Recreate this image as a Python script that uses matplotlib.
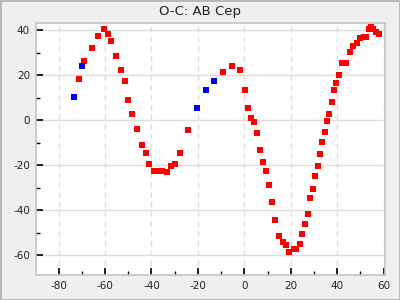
import matplotlib
matplotlib.use("Agg")
import matplotlib.pyplot as plt
from matplotlib.ticker import MultipleLocator

plt.rcParams["axes.unicode_minus"] = False

# red points (O-C values)
red_x = [-71.1, -69.0, -65.5, -62.9, -60.3, -58.6, -57.3, -55.2, -53.0, -51.3,
         -50.0, -48.3, -46.1, -44.0, -42.2, -40.9, -38.8, -37.1, -35.3, -33.2,
         -31.5, -29.7, -27.6, -24.1, -9.1, -5.2, -1.7, 0.4, 1.7, 3.0,
         4.3, 5.6, 6.9, 8.2, 9.5, 10.8, 12.1, 13.4, 15.1, 16.8,
         18.1, 19.4, 21.6, 22.4, 24.1, 25.0, 26.3, 27.6, 28.4, 29.7,
         30.6, 31.9, 32.8, 33.6, 34.9, 35.8, 36.6, 37.9, 38.8, 39.7,
         40.9, 42.2, 44.0, 45.7, 47.0, 48.7, 50.0, 51.7, 52.6, 53.9,
         54.7, 55.6, 56.9, 58.2]
red_y = [18.5, 26.5, 31.9, 37.2, 40.3, 38.1, 35.0, 28.3, 22.5, 17.6,
         8.8, 2.5, -4.1, -11.2, -14.8, -19.7, -22.8, -22.8, -22.8, -23.2,
         -20.6, -19.7, -14.4, -4.6, 21.6, 23.9, 22.1, 13.2, 5.2, 0.8,
         -1.0, -5.9, -13.3, -18.8, -22.8, -29.0, -36.6, -44.6, -51.7, -54.4,
         -55.7, -58.8, -57.5, -57.5, -55.2, -50.8, -46.4, -41.9, -34.8, -30.4,
         -25.0, -20.6, -15.2, -9.9, -5.5, -0.6, 2.5, 7.9, 13.2, 16.3,
         19.9, 25.6, 25.6, 30.1, 32.8, 34.1, 36.3, 36.8, 36.8, 40.3,
         41.2, 40.3, 39.0, 38.5]

# blue points
blue_x = [-73.3, -69.8, -20.3, -16.4, -12.9]
blue_y = [10.5, 23.9, 5.6, 13.2, 17.6]

title = "O-C: AB Cep"

fig = plt.figure(figsize=(4, 3), dpi=100)
fig.patch.set_facecolor("#efefef")
fig.patch.set_edgecolor("#b8b8b8")
fig.patch.set_linewidth(2)

ax = fig.add_axes([0.089, 0.083, 0.8735, 0.839])
ax.set_facecolor("white")

ax.plot(red_x, red_y, "s", color="#ff0000", ms=3.7, mew=0, zorder=3)
ax.plot(blue_x, blue_y, "s", color="#0000ff", ms=3.7, mew=0, zorder=3)

ax.set_xlim(-89.9, 60.6)
ax.set_ylim(-68.9, 43.0)

ax.xaxis.set_major_locator(MultipleLocator(20))
ax.xaxis.set_minor_locator(MultipleLocator(10))
ax.yaxis.set_major_locator(MultipleLocator(20))
ax.yaxis.set_minor_locator(MultipleLocator(10))

ax.grid(axis="x", which="major", color="#dddddd", linestyle=(0, (4, 3)), linewidth=1)
ax.grid(axis="y", which="major", color="#dddddd", linestyle="-", linewidth=1)
ax.set_axisbelow(True)

for s in ax.spines.values():
    s.set_color("#c4c4c4")
    s.set_linewidth(1.2)

ax.tick_params(which="major", direction="in", length=5, width=1.2, color="black",
               labelsize=7.5, labelcolor="#222222", pad=4)
ax.tick_params(which="minor", direction="in", length=3, width=1.0, color="black")

fig.text(0.5, 1 - 11 / 300, title, ha="center", va="center", fontsize=9.5, color="#222222")

fig.savefig("out.png", dpi=100, facecolor=fig.get_facecolor(), edgecolor=fig.get_edgecolor())
